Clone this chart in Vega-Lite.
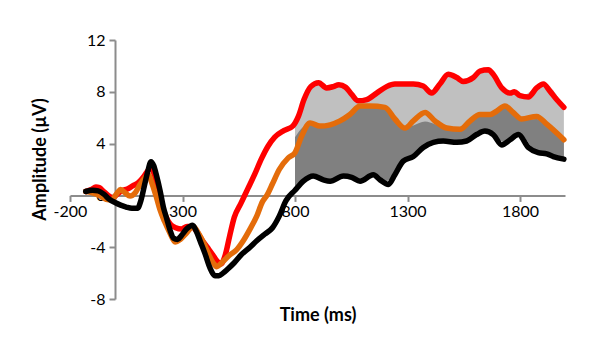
{
  "$schema": "https://vega.github.io/schema/vega-lite/v6.json",
  "width": 495,
  "height": 259,
  "autosize": {"type": "none"},
  "padding": {"left": 70, "top": 40, "right": 46, "bottom": 57},
  "background": "white",
  "config": {
    "font": "Lato",
    "view": {"stroke": null},
    "axis": {
      "grid": false,
      "domainColor": "#8c8c8c",
      "domainWidth": 2,
      "tickColor": "#8c8c8c",
      "tickWidth": 2,
      "tickSize": 6,
      "labelFont": "Lato",
      "labelFontSize": 16,
      "labelColor": "#000000",
      "titleFont": "Lato",
      "titleFontSize": 18,
      "titleFontWeight": "bold",
      "titleColor": "#000000"
    }
  },
  "datasets": {
    "lines": [
      {"series": "red", "t": -130, "v": 0.3}, {"series": "red", "t": -105, "v": 0.45}, {"series": "red", "t": -85, "v": 0.65}, {"series": "red", "t": -70, "v": 0.6}, {"series": "red", "t": -50, "v": 0.3}, {"series": "red", "t": -30, "v": 0.0}, {"series": "red", "t": -10, "v": -0.2}, {"series": "red", "t": 10, "v": 0.1}, {"series": "red", "t": 30, "v": 0.35}, {"series": "red", "t": 55, "v": 0.5}, {"series": "red", "t": 80, "v": 0.75}, {"series": "red", "t": 105, "v": 1.0}, {"series": "red", "t": 130, "v": 1.5}, {"series": "red", "t": 150, "v": 2.0}, {"series": "red", "t": 160, "v": 2.1}, {"series": "red", "t": 175, "v": 1.6}, {"series": "red", "t": 190, "v": 0.5}, {"series": "red", "t": 205, "v": -0.6}, {"series": "red", "t": 225, "v": -1.6}, {"series": "red", "t": 245, "v": -2.2}, {"series": "red", "t": 270, "v": -2.5}, {"series": "red", "t": 295, "v": -2.6}, {"series": "red", "t": 320, "v": -2.4}, {"series": "red", "t": 340, "v": -2.4}, {"series": "red", "t": 360, "v": -2.7}, {"series": "red", "t": 385, "v": -3.4}, {"series": "red", "t": 410, "v": -4.0}, {"series": "red", "t": 435, "v": -4.6}, {"series": "red", "t": 455, "v": -5.1}, {"series": "red", "t": 470, "v": -5.3}, {"series": "red", "t": 490, "v": -4.6}, {"series": "red", "t": 510, "v": -3.1}, {"series": "red", "t": 530, "v": -1.7}, {"series": "red", "t": 560, "v": -0.6}, {"series": "red", "t": 590, "v": 0.5}, {"series": "red", "t": 620, "v": 1.6}, {"series": "red", "t": 650, "v": 2.8}, {"series": "red", "t": 680, "v": 3.8}, {"series": "red", "t": 710, "v": 4.5}, {"series": "red", "t": 750, "v": 5.0}, {"series": "red", "t": 790, "v": 5.35}, {"series": "red", "t": 815, "v": 6.1}, {"series": "red", "t": 840, "v": 7.4}, {"series": "red", "t": 870, "v": 8.4}, {"series": "red", "t": 905, "v": 8.7}, {"series": "red", "t": 940, "v": 8.3}, {"series": "red", "t": 970, "v": 8.4}, {"series": "red", "t": 995, "v": 8.55}, {"series": "red", "t": 1025, "v": 8.35}, {"series": "red", "t": 1052, "v": 7.8}, {"series": "red", "t": 1081, "v": 7.3}, {"series": "red", "t": 1119, "v": 7.4}, {"series": "red", "t": 1163, "v": 7.9}, {"series": "red", "t": 1207, "v": 8.4}, {"series": "red", "t": 1244, "v": 8.6}, {"series": "red", "t": 1290, "v": 8.6}, {"series": "red", "t": 1326, "v": 8.6}, {"series": "red", "t": 1370, "v": 8.45}, {"series": "red", "t": 1407, "v": 7.9}, {"series": "red", "t": 1444, "v": 8.6}, {"series": "red", "t": 1481, "v": 9.35}, {"series": "red", "t": 1519, "v": 9.1}, {"series": "red", "t": 1548, "v": 8.8}, {"series": "red", "t": 1593, "v": 9.1}, {"series": "red", "t": 1622, "v": 9.6}, {"series": "red", "t": 1659, "v": 9.7}, {"series": "red", "t": 1681, "v": 9.35}, {"series": "red", "t": 1719, "v": 8.3}, {"series": "red", "t": 1756, "v": 7.9}, {"series": "red", "t": 1775, "v": 8.0}, {"series": "red", "t": 1800, "v": 7.7}, {"series": "red", "t": 1837, "v": 7.6}, {"series": "red", "t": 1874, "v": 8.3}, {"series": "red", "t": 1904, "v": 8.6}, {"series": "red", "t": 1933, "v": 8.05}, {"series": "red", "t": 1963, "v": 7.4}, {"series": "red", "t": 1995, "v": 6.8},
      {"series": "orange", "t": -130, "v": 0.3}, {"series": "orange", "t": -100, "v": 0.2}, {"series": "orange", "t": -70, "v": 0.0}, {"series": "orange", "t": -40, "v": -0.3}, {"series": "orange", "t": -15, "v": -0.35}, {"series": "orange", "t": 10, "v": 0.2}, {"series": "orange", "t": 25, "v": 0.45}, {"series": "orange", "t": 45, "v": 0.2}, {"series": "orange", "t": 67, "v": -0.05}, {"series": "orange", "t": 90, "v": 0.2}, {"series": "orange", "t": 110, "v": 0.8}, {"series": "orange", "t": 130, "v": 1.3}, {"series": "orange", "t": 148, "v": 1.6}, {"series": "orange", "t": 165, "v": 0.9}, {"series": "orange", "t": 185, "v": -0.2}, {"series": "orange", "t": 200, "v": -1.1}, {"series": "orange", "t": 220, "v": -2.0}, {"series": "orange", "t": 244, "v": -2.9}, {"series": "orange", "t": 267, "v": -3.6}, {"series": "orange", "t": 290, "v": -3.4}, {"series": "orange", "t": 318, "v": -2.9}, {"series": "orange", "t": 348, "v": -2.4}, {"series": "orange", "t": 370, "v": -2.9}, {"series": "orange", "t": 392, "v": -3.6}, {"series": "orange", "t": 415, "v": -4.5}, {"series": "orange", "t": 436, "v": -5.2}, {"series": "orange", "t": 452, "v": -5.5}, {"series": "orange", "t": 480, "v": -5.1}, {"series": "orange", "t": 510, "v": -4.6}, {"series": "orange", "t": 540, "v": -4.2}, {"series": "orange", "t": 570, "v": -3.5}, {"series": "orange", "t": 600, "v": -2.6}, {"series": "orange", "t": 630, "v": -1.6}, {"series": "orange", "t": 655, "v": -0.5}, {"series": "orange", "t": 675, "v": 0.0}, {"series": "orange", "t": 700, "v": 0.9}, {"series": "orange", "t": 730, "v": 2.0}, {"series": "orange", "t": 770, "v": 2.9}, {"series": "orange", "t": 800, "v": 3.3}, {"series": "orange", "t": 830, "v": 4.6}, {"series": "orange", "t": 867, "v": 5.6}, {"series": "orange", "t": 911, "v": 5.35}, {"series": "orange", "t": 956, "v": 5.45}, {"series": "orange", "t": 1000, "v": 5.75}, {"series": "orange", "t": 1044, "v": 6.25}, {"series": "orange", "t": 1089, "v": 6.9}, {"series": "orange", "t": 1133, "v": 6.9}, {"series": "orange", "t": 1200, "v": 6.8}, {"series": "orange", "t": 1244, "v": 5.9}, {"series": "orange", "t": 1289, "v": 5.2}, {"series": "orange", "t": 1326, "v": 5.75}, {"series": "orange", "t": 1378, "v": 6.4}, {"series": "orange", "t": 1422, "v": 5.75}, {"series": "orange", "t": 1474, "v": 5.2}, {"series": "orange", "t": 1533, "v": 5.1}, {"series": "orange", "t": 1578, "v": 5.75}, {"series": "orange", "t": 1622, "v": 6.25}, {"series": "orange", "t": 1667, "v": 6.25}, {"series": "orange", "t": 1696, "v": 6.5}, {"series": "orange", "t": 1733, "v": 6.9}, {"series": "orange", "t": 1770, "v": 6.4}, {"series": "orange", "t": 1807, "v": 5.9}, {"series": "orange", "t": 1874, "v": 6.1}, {"series": "orange", "t": 1919, "v": 5.5}, {"series": "orange", "t": 1995, "v": 4.3},
      {"series": "black", "t": -130, "v": 0.3}, {"series": "black", "t": -100, "v": 0.4}, {"series": "black", "t": -75, "v": 0.35}, {"series": "black", "t": -50, "v": 0.1}, {"series": "black", "t": -25, "v": -0.3}, {"series": "black", "t": 0, "v": -0.55}, {"series": "black", "t": 25, "v": -0.75}, {"series": "black", "t": 50, "v": -0.9}, {"series": "black", "t": 75, "v": -1.0}, {"series": "black", "t": 100, "v": -1.0}, {"series": "black", "t": 115, "v": -0.4}, {"series": "black", "t": 130, "v": 0.7}, {"series": "black", "t": 145, "v": 1.8}, {"series": "black", "t": 160, "v": 2.6}, {"series": "black", "t": 172, "v": 2.3}, {"series": "black", "t": 185, "v": 1.5}, {"series": "black", "t": 200, "v": 0.4}, {"series": "black", "t": 215, "v": -0.9}, {"series": "black", "t": 230, "v": -1.8}, {"series": "black", "t": 245, "v": -2.7}, {"series": "black", "t": 260, "v": -3.3}, {"series": "black", "t": 278, "v": -3.4}, {"series": "black", "t": 295, "v": -3.1}, {"series": "black", "t": 318, "v": -2.6}, {"series": "black", "t": 345, "v": -2.3}, {"series": "black", "t": 362, "v": -2.8}, {"series": "black", "t": 380, "v": -3.6}, {"series": "black", "t": 400, "v": -4.5}, {"series": "black", "t": 422, "v": -5.6}, {"series": "black", "t": 445, "v": -6.2}, {"series": "black", "t": 462, "v": -6.2}, {"series": "black", "t": 480, "v": -6.0}, {"series": "black", "t": 500, "v": -5.7}, {"series": "black", "t": 530, "v": -5.2}, {"series": "black", "t": 560, "v": -4.6}, {"series": "black", "t": 600, "v": -4.0}, {"series": "black", "t": 630, "v": -3.5}, {"series": "black", "t": 665, "v": -3.0}, {"series": "black", "t": 700, "v": -2.5}, {"series": "black", "t": 730, "v": -1.6}, {"series": "black", "t": 760, "v": -0.4}, {"series": "black", "t": 800, "v": 0.4}, {"series": "black", "t": 837, "v": 1.1}, {"series": "black", "t": 881, "v": 1.5}, {"series": "black", "t": 926, "v": 1.2}, {"series": "black", "t": 956, "v": 1.1}, {"series": "black", "t": 1015, "v": 1.5}, {"series": "black", "t": 1052, "v": 1.4}, {"series": "black", "t": 1089, "v": 1.1}, {"series": "black", "t": 1148, "v": 1.6}, {"series": "black", "t": 1178, "v": 1.2}, {"series": "black", "t": 1215, "v": 0.85}, {"series": "black", "t": 1244, "v": 1.6}, {"series": "black", "t": 1281, "v": 2.65}, {"series": "black", "t": 1326, "v": 3.0}, {"series": "black", "t": 1370, "v": 3.7}, {"series": "black", "t": 1415, "v": 4.1}, {"series": "black", "t": 1459, "v": 4.2}, {"series": "black", "t": 1519, "v": 4.1}, {"series": "black", "t": 1563, "v": 4.2}, {"series": "black", "t": 1607, "v": 4.7}, {"series": "black", "t": 1644, "v": 4.97}, {"series": "black", "t": 1681, "v": 4.7}, {"series": "black", "t": 1719, "v": 3.9}, {"series": "black", "t": 1756, "v": 4.3}, {"series": "black", "t": 1793, "v": 4.7}, {"series": "black", "t": 1837, "v": 3.7}, {"series": "black", "t": 1881, "v": 3.3}, {"series": "black", "t": 1919, "v": 3.2}, {"series": "black", "t": 1948, "v": 3.0}, {"series": "black", "t": 1995, "v": 2.8}
    ],
    "band": [
      {"t": 800, "lo": 0.6, "mid": 4.5, "hi": 5.4},
      {"t": 837, "lo": 1.1, "mid": 5.3, "hi": 7.0},
      {"t": 870, "lo": 1.4, "mid": 5.6, "hi": 8.4},
      {"t": 905, "lo": 1.4, "mid": 5.35, "hi": 8.7},
      {"t": 940, "lo": 1.2, "mid": 5.4, "hi": 8.3},
      {"t": 995, "lo": 1.3, "mid": 5.7, "hi": 8.55},
      {"t": 1044, "lo": 1.4, "mid": 6.2, "hi": 8.1},
      {"t": 1089, "lo": 1.1, "mid": 6.8, "hi": 7.3},
      {"t": 1133, "lo": 1.5, "mid": 6.9, "hi": 7.6},
      {"t": 1200, "lo": 1.1, "mid": 6.8, "hi": 8.3},
      {"t": 1244, "lo": 1.5, "mid": 6.0, "hi": 8.6},
      {"t": 1289, "lo": 2.7, "mid": 5.2, "hi": 8.6},
      {"t": 1326, "lo": 3.0, "mid": 5.4, "hi": 8.6},
      {"t": 1378, "lo": 3.7, "mid": 5.7, "hi": 8.4},
      {"t": 1422, "lo": 4.1, "mid": 5.5, "hi": 8.1},
      {"t": 1474, "lo": 4.2, "mid": 5.2, "hi": 9.2},
      {"t": 1533, "lo": 4.1, "mid": 5.1, "hi": 9.0},
      {"t": 1578, "lo": 4.3, "mid": 5.7, "hi": 9.0},
      {"t": 1622, "lo": 4.7, "mid": 6.1, "hi": 9.6},
      {"t": 1667, "lo": 4.9, "mid": 6.1, "hi": 9.6},
      {"t": 1733, "lo": 4.1, "mid": 6.8, "hi": 8.2},
      {"t": 1770, "lo": 4.3, "mid": 6.3, "hi": 7.9},
      {"t": 1807, "lo": 4.6, "mid": 5.8, "hi": 7.7},
      {"t": 1874, "lo": 3.3, "mid": 5.9, "hi": 8.3},
      {"t": 1919, "lo": 3.2, "mid": 5.4, "hi": 8.4},
      {"t": 1995, "lo": 2.8, "mid": 4.2, "hi": 6.8}
    ]
  },
  "encoding": {
    "x": {
      "field": "t",
      "type": "quantitative",
      "scale": {"domain": [-200, 2000], "nice": false, "zero": false},
      "axis": {
        "values": [-200, 300, 800, 1300, 1800],
        "labelExpr": "'' + datum.value",
        "offset": -103.6,
        "labelPadding": 2,
        "labelFlush": false,
        "title": "Time (ms)",
        "titleY": 120,
        "titleBaseline": "middle"
      }
    }
  },
  "layer": [
    {
      "data": {"name": "band"},
      "mark": {"type": "area", "color": "#c0c0c0", "interpolate": "monotone"},
      "encoding": {
        "y": {
          "field": "lo",
          "type": "quantitative",
          "scale": {"domain": [-8, 12], "nice": false, "zero": false},
          "axis": {
            "values": [-8, -4, 0, 4, 8, 12],
            "labelExpr": "'' + datum.value",
            "offset": -45,
            "labelPadding": 4,
            "title": "Amplitude (µV)",
            "titleX": -75,
            "titleY": 119,
            "titleAlign": "center",
            "titleBaseline": "middle",
            "titleAngle": -90
          }
        },
        "y2": {"field": "hi"}
      }
    },
    {
      "data": {"name": "band"},
      "mark": {"type": "area", "color": "#808080", "interpolate": "monotone"},
      "encoding": {
        "y": {"field": "lo", "type": "quantitative"},
        "y2": {"field": "mid"}
      }
    },
    {
      "data": {"name": "lines"},
      "transform": [{"filter": "datum.series === 'red'"}],
      "mark": {"type": "line", "color": "#ff0000", "strokeWidth": 5.5, "interpolate": "monotone", "strokeJoin": "round", "strokeCap": "round"},
      "encoding": {"y": {"field": "v", "type": "quantitative"}}
    },
    {
      "data": {"name": "lines"},
      "transform": [{"filter": "datum.series === 'orange'"}],
      "mark": {"type": "line", "color": "#e46c0a", "strokeWidth": 5.5, "interpolate": "monotone", "strokeJoin": "round", "strokeCap": "round"},
      "encoding": {"y": {"field": "v", "type": "quantitative"}}
    },
    {
      "data": {"name": "lines"},
      "transform": [{"filter": "datum.series === 'black'"}],
      "mark": {"type": "line", "color": "#000000", "strokeWidth": 5.5, "interpolate": "monotone", "strokeJoin": "round", "strokeCap": "round"},
      "encoding": {"y": {"field": "v", "type": "quantitative"}}
    }
  ]
}
